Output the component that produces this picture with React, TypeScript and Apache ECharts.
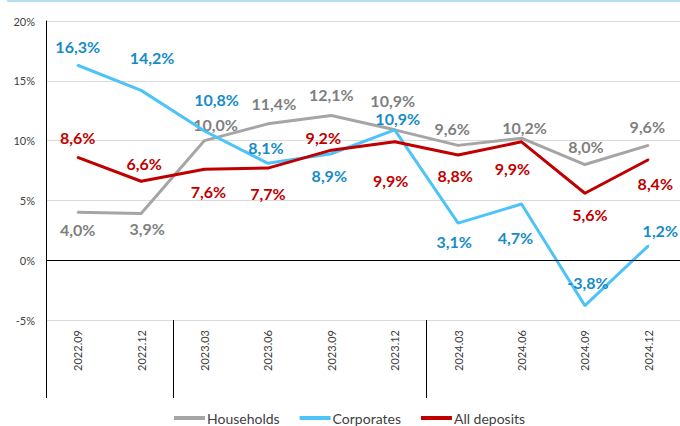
import React, { useEffect, useRef } from "react";
import * as echarts from "echarts";

const categories = ["2022.09", "2022.12", "2023.03", "2023.06", "2023.09", "2023.12", "2024.03", "2024.06", "2024.09", "2024.12"];
const households = [4.0, 3.9, 10.0, 11.4, 12.1, 10.9, 9.6, 10.2, 8.0, 9.6];
const corporates = [16.3, 14.2, 10.8, 8.1, 8.9, 10.9, 3.1, 4.7, -3.8, 1.2];
const allDeposits = [8.6, 6.6, 7.6, 7.7, 9.2, 9.9, 8.8, 9.9, 5.6, 8.4];
const yTicks = [-5, 0, 5, 10, 15, 20];

// label offsets (layout only)
const hhOffsets = [[0, 17], [6, 15], [11, -16], [6, -20], [0, -21], [-2, -29], [-6, -17], [3, -11], [1, -18], [-1, -19]];
const coOffsets = [[0, -19], [11, -33], [12, -32], [-2, -16], [-2, 22], [3, -11], [-4, 18], [-6, 34], [3, -23], [12, -15]];
const adOffsets = [[0, -20], [3, -18], [4, 22], [0, 25], [-8, -13], [-4, 39], [-3, 21], [-9, 27], [5, 21], [7, 24]];

const FONT = "Lato, 'Noto Sans', sans-serif";

const fmt = (v: number) => v.toFixed(1).replace(".", ",") + "%";

function mkData(vals: number[], offs: number[][], color: string) {
  return vals.map((v, i) => ({
    value: v,
    label: {
      show: true,
      position: "inside",
      offset: offs[i],
      formatter: fmt(v),
      color,
      fontFamily: FONT,
      fontSize: 16,
      fontWeight: "bold",
    },
  }));
}

export default function App() {
  const ref = useRef<HTMLDivElement>(null);
  useEffect(() => {
    if (!ref.current) return;
    const chart = echarts.init(ref.current, null, { renderer: "svg" });
    const lineSeries = (name: string, vals: number[], offs: number[][], color: string, labelColor: string, z: number) => ({
      name,
      type: "line",
      symbol: "circle",
      symbolSize: 2,
      showSymbol: true,
      showAllSymbol: true,
      color,
      itemStyle: { color },
      lineStyle: { color, width: 3 },
      data: mkData(vals, offs, labelColor),
      z,
    });
    const hh: any = lineSeries("Households", households, hhOffsets, "#a5a5a5", "#7f7f7f", 2);
    hh.markLine = {
      silent: true,
      symbol: "none",
      label: { show: false },
      lineStyle: { color: "#000000", width: 1, type: "solid" },
      data: [{ yAxis: 0 }],
    };
    chart.setOption({
      animation: false,
      backgroundColor: "#ffffff",
      textStyle: { fontFamily: FONT },
      grid: { left: 46, top: 21, bottom: 106, right: -6, containLabel: false },
      graphic: [
        {
          type: "line",
          shape: { x1: 7, y1: 1, x2: 680, y2: 1 },
          style: { stroke: "#9fd4ee", lineWidth: 1.5 },
        },
      ],
      legend: {
        left: 174,
        top: 411,
        padding: 0,
        icon: "rect",
        itemWidth: 31,
        itemHeight: 4,
        itemGap: 20,
        textStyle: { fontFamily: FONT, fontSize: 14, color: "#404040", padding: [0, 0, 0, -3] },
        data: ["Households", "Corporates", "All deposits"],
      },
      xAxis: {
        type: "category",
        data: categories,
        boundaryGap: true,
        axisLine: { show: false, onZero: false },
        axisTick: {
          show: true,
          length: 78,
          inside: false,
          interval: (index: number) => index === 0 || index === 2 || index === 6,
          lineStyle: { color: "#000000", width: 1 },
        },
        axisLabel: {
          rotate: 90,
          margin: 10,
          interval: 0,
          fontFamily: FONT,
          fontSize: 11,
          color: "#404040",
        },
      },
      yAxis: {
        type: "value",
        min: yTicks[0],
        max: yTicks[yTicks.length - 1],
        interval: 5,
        axisLine: { show: true, lineStyle: { color: "#000000", width: 1 } },
        axisTick: { show: false },
        splitLine: { show: true, lineStyle: { color: "#d9d9d9", width: 1 } },
        axisLabel: {
          formatter: (v: number) => v + "%",
          margin: 11,
          fontFamily: FONT,
          fontSize: 11,
          color: "#404040",
        },
      },
      series: [
        hh,
        lineSeries("Corporates", corporates, coOffsets, "#4dc3fa", "#168cc8", 3),
        lineSeries("All deposits", allDeposits, adOffsets, "#c00000", "#c00000", 4),
      ],
    });
    return () => chart.dispose();
  }, []);
  return (
    <div
      ref={ref}
      style={{ position: "fixed", left: 0, top: 0, width: 680, height: 426, overflow: "hidden" }}
    />
  );
}
